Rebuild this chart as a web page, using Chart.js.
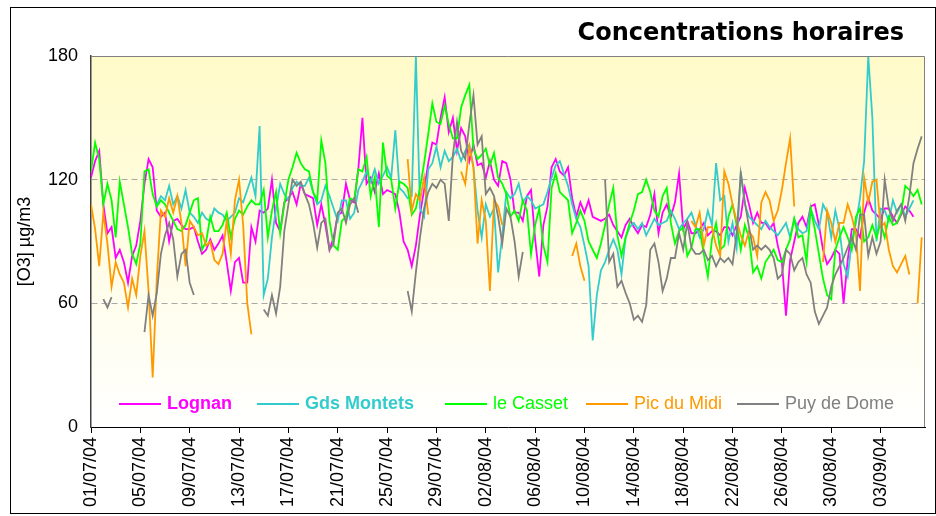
<!DOCTYPE html>
<html>
<head>
<meta charset="utf-8">
<script src="https://cdn.jsdelivr.net/npm/chart.js@4.4.1/dist/chart.umd.min.js"></script>
<style>
  html, body { margin: 0; padding: 0; background: #fff; }
</style>
</head>
<body>
<canvas id="graphe" width="936" height="516"></canvas>
<script>
// =======================================
// Ozone - concentrations horaires (ete 2004)
// =======================================

// pas de temps : 8 h (3 valeurs par jour), jour 0 = 01/07/04
const PAS = 1 / 3;
const _ = null;

const etiquettesDates = ['01/07/04', '05/07/04', '09/07/04', '13/07/04', '17/07/04', '21/07/04',
  '25/07/04', '29/07/04', '02/08/04', '06/08/04', '10/08/04', '14/08/04', '18/08/04',
  '22/08/04', '26/08/04', '30/08/04', '03/09/04'];

const stations = ['Lognan', 'Gds Montets', 'le Casset', 'Pic du Midi', 'Puy de Dome'];
const couleurs = ['#FF00FF', '#33CCCC', '#00FF00', '#FF9900', '#808080'];
const gras = [true, true, false, false, false];

const lognan = [121,129,134,108,94,97,82,86,80,70,83,88,100,118,130,126,105,102,104,90,100,101,98,96,96,97,
  90,84,86,91,86,89,93,80,66,80,82,70,70,97,90,105,104,106,120,99,95,109,111,114,108,118,
  113,112,111,98,108,98,86,92,103,104,118,110,109,125,150,118,121,114,123,113,115,114,113,104,90,86,
  78,88,103,115,128,138,137,150,160,143,150,134,145,141,129,137,127,128,121,129,120,117,129,128,120,
  104,104,100,112,115,91,73,98,107,126,130,124,122,126,111,102,109,104,110,102,101,100,101,103,98,95,
  92,98,101,97,94,98,97,103,113,94,104,108,102,109,123,96,100,94,94,96,99,93,95,95,93,97,
  97,93,98,102,116,108,99,104,99,99,96,99,88,80,54,81,90,99,102,97,107,108,98,86,79,
  82,86,84,60,81,96,96,92,104,111,105,103,101,106,106,102,99,103,107,105,102,_,_];

const gdsMontets = [_,_,_,_,_,_,_,_,_,_,_,_,_,_,_,_,108,112,110,117,108,112,106,115,104,102,
  99,104,101,100,106,104,103,100,102,104,111,109,115,121,112,146,64,72,92,106,118,113,110,116,119,117,
  117,121,114,108,110,117,112,106,100,110,110,101,104,115,119,124,119,125,118,122,126,121,144,116,114,111,
  112,180,106,102,125,128,136,126,134,129,131,135,129,134,137,126,105,92,108,102,106,75,93,114,111,
  113,118,109,112,110,106,107,108,114,121,127,129,123,117,108,101,97,88,78,42,64,76,80,86,91,86,
  74,92,97,99,96,99,93,97,101,98,99,100,105,101,96,99,101,104,98,92,96,105,98,128,110,112,
  90,99,87,124,108,102,100,98,96,100,97,95,93,96,99,92,101,96,94,95,106,100,96,108,104,
  92,105,96,79,73,90,99,111,129,180,150,90,106,105,100,110,104,108,102,106,110,_,_];

const leCasset = [124,138,130,108,118,110,92,119,108,97,84,79,89,124,125,113,107,110,108,104,100,96,95,98,104,110,
  111,86,90,102,95,95,98,104,92,101,105,103,107,110,108,108,115,92,105,114,94,108,120,126,133,128,
  125,124,114,110,139,128,100,88,86,100,102,111,110,125,124,131,112,121,97,138,122,120,106,119,118,116,
  103,106,116,128,142,157,148,147,156,147,140,140,155,161,166,135,130,132,135,127,133,121,118,113,102,
  105,100,110,105,84,98,106,88,80,116,123,114,112,110,94,99,105,100,90,86,82,89,98,108,116,93,
  83,92,99,105,113,114,120,114,105,102,112,116,99,89,95,97,83,87,96,96,84,73,91,99,86,88,
  102,108,98,86,98,92,75,78,72,80,83,86,81,80,86,91,101,92,93,80,106,96,84,72,64,
  62,86,92,97,92,86,102,106,90,92,98,92,99,92,102,98,99,104,117,115,112,115,108];

const picDuMidi = [108,96,78,104,89,68,80,74,70,58,72,64,83,95,66,24,72,105,102,111,104,112,99,78,100,97,
  93,94,88,90,81,79,84,100,84,110,120,98,60,45,_,_,_,_,_,_,_,_,_,_,_,_,
  _,_,_,_,_,_,_,_,_,_,_,_,_,_,_,_,_,_,_,_,_,_,_,_,_,130,
  105,113,110,121,103,_,_,_,_,_,_,_,124,118,136,126,89,110,100,66,110,107,98,_,_,
  _,_,_,_,_,_,_,_,_,_,_,_,_,_,83,89,78,71,_,_,_,_,_,_,_,_,
  _,_,_,_,_,_,_,_,_,_,_,_,_,_,_,_,_,100,97,104,88,97,97,88,83,124,
  118,108,100,93,88,95,92,83,109,114,110,100,105,115,128,140,107,_,_,_,_,_,_,80,105,
  99,90,99,99,108,102,94,66,121,109,119,120,97,99,86,78,75,79,83,74,_,60,92];

const puyDeDome = [_,_,_,62,58,63,_,_,_,_,_,_,_,46,64,54,65,84,93,99,91,73,84,86,70,64,
  _,_,_,_,_,_,_,_,_,_,_,_,_,_,_,_,57,54,64,55,68,95,108,120,117,119,
  113,108,99,87,99,101,86,89,104,106,99,108,111,104,_,_,_,_,_,_,_,_,_,_,_,66,
  56,75,92,106,114,118,116,120,118,100,132,148,134,130,147,161,137,141,113,116,112,102,89,106,102,
  90,73,85,_,_,_,_,_,_,_,_,_,_,_,_,_,_,_,_,_,_,_,120,80,84,68,
  71,65,60,52,54,51,59,86,89,80,66,72,82,82,94,86,99,87,84,84,86,81,83,78,82,80,
  82,79,94,123,109,97,86,88,86,88,86,82,72,74,86,84,76,80,82,74,70,56,50,54,58,
  68,74,78,82,87,92,86,103,103,83,92,84,90,120,106,100,105,108,100,112,128,135,141];

const series = [lognan, gdsMontets, leCasset, picDuMidi, puyDeDome];

// ---------------------------
// fond degrade + cadre, titre, legende
// ---------------------------
const decor = {
  id: 'decor',
  beforeDraw(chart) {
    const { ctx, chartArea: a } = chart;
    ctx.save();
    ctx.fillStyle = '#fff';
    ctx.fillRect(0, 0, chart.width, chart.height);
    const g = ctx.createLinearGradient(0, a.top, 0, a.bottom);
    g.addColorStop(0, 'rgb(255,250,200)');
    g.addColorStop(1, 'rgb(255,255,255)');
    ctx.fillStyle = g;
    ctx.fillRect(a.left, a.top, a.right - a.left, a.bottom - a.top);
    ctx.restore();
  },
  afterDraw(chart) {
    const { ctx, chartArea: a } = chart;
    ctx.save();
    // bord haut / droit de la zone de tracé
    ctx.strokeStyle = '#808080';
    ctx.lineWidth = 1;
    ctx.beginPath();
    ctx.moveTo(a.left, a.top + 0.5);
    ctx.lineTo(a.right - 0.5, a.top + 0.5);
    ctx.lineTo(a.right - 0.5, a.bottom);
    ctx.stroke();

    // cadre général
    ctx.strokeStyle = '#000';
    ctx.strokeRect(10.5, 7.5, 925, 506);

    // titre
    ctx.fillStyle = '#000';
    ctx.font = 'bold 24px "DejaVu Sans", Verdana, sans-serif';
    ctx.textAlign = 'right';
    ctx.textBaseline = 'alphabetic';
    ctx.fillText('Concentrations horaires', 904, 40);

    // légende dans la zone de tracé
    const xs = [119, 257, 445, 586, 737];
    const y = 404;
    ctx.textAlign = 'left';
    ctx.textBaseline = 'middle';
    chart.data.datasets.forEach((ds, i) => {
      ctx.strokeStyle = ds.borderColor;
      ctx.lineWidth = 2;
      ctx.beginPath();
      ctx.moveTo(xs[i], y);
      ctx.lineTo(xs[i] + 42, y);
      ctx.stroke();
      ctx.fillStyle = ds.borderColor;
      ctx.font = (gras[i] ? 'bold ' : '') + '18px "Liberation Sans", Arial, sans-serif';
      ctx.fillText(ds.label, xs[i] + 48, y);
    });
    ctx.restore();
  }
};

Chart.defaults.font.family = '"Liberation Sans", Arial, sans-serif';
Chart.defaults.color = '#000';

new Chart(document.getElementById('graphe'), {
  type: 'line',
  data: {
    datasets: stations.map((nom, k) => ({
      label: nom,
      data: series[k].map((v, i) => ({ x: i * PAS, y: v })),
      borderColor: couleurs[k],
      backgroundColor: couleurs[k],
      borderWidth: 1.8,
      pointRadius: 0,
      tension: 0,
      spanGaps: false,
      order: stations.length - k
    }))
  },
  options: {
    responsive: false,
    animation: false,
    devicePixelRatio: 1,
    layout: { padding: { top: 56, right: 11, bottom: 0, left: 0 } },
    plugins: {
      legend: { display: false },
      title: { display: false },
      tooltip: { enabled: false }
    },
    scales: {
      x: {
        type: 'linear',
        min: 0,
        max: 67.6,
        afterFit: (s) => { s.height = 89; },
        border: { color: '#000', width: 1 },
        grid: { drawOnChartArea: false, drawTicks: true, tickLength: 6, color: '#000' },
        ticks: {
          stepSize: 4,
          maxTicksLimit: 30,
          includeBounds: false,
          autoSkip: false,
          minRotation: 90,
          maxRotation: 90,
          padding: 4,
          font: { size: 18 },
          callback: (v) => {
            const k = Math.round(v / 4);
            return Math.abs(v - k * 4) < 1e-6 ? etiquettesDates[k] : '';
          }
        }
      },
      y: {
        min: 0,
        max: 180,
        afterFit: (s) => { s.width = 91; },
        border: { color: '#404040', width: 1.5, dash: [6, 4] },
        grid: {
          drawTicks: false,
          color: (c) => (c.tick.value === 60 || c.tick.value === 120) ? '#A8A8A8' : 'rgba(0,0,0,0)'
        },
        ticks: { stepSize: 60, padding: 13, font: { size: 18 } },
        title: {
          display: true,
          text: '[O3] µg/m3',
          font: { size: 18 },
          padding: { top: 14, bottom: 0 }
        }
      }
    }
  },
  plugins: [decor]
});
</script>
</body>
</html>
